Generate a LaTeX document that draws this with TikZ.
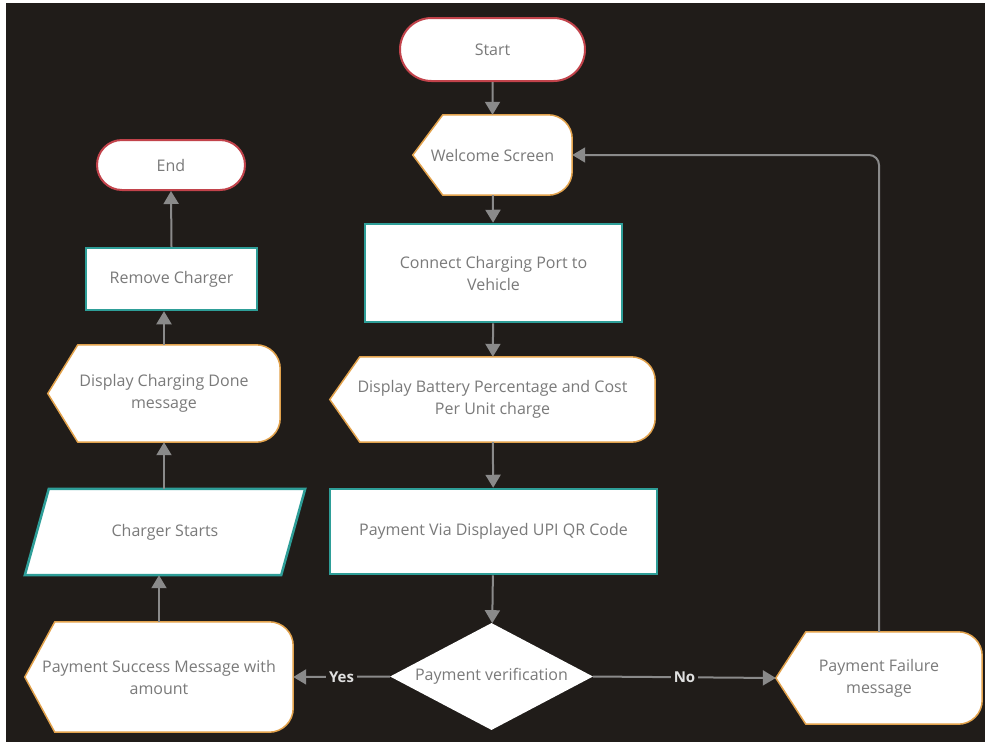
\documentclass[tikz,border=0pt]{standalone}
\usepackage{fontspec}
\setmainfont{Open Sans}
\usetikzlibrary{arrows.meta,shapes.geometric,shapes.misc}

\definecolor{bgdark}{HTML}{201C19}
\definecolor{termred}{HTML}{C2434B}
\definecolor{disporange}{HTML}{E2A24C}
\definecolor{procteal}{HTML}{2E9E98}
\definecolor{flowgray}{HTML}{8A8A8A}
\definecolor{labelgray}{HTML}{7A7A7A}

\pgfdeclarelayer{back}
\pgfdeclarelayer{outline}
\pgfsetlayers{back,outline,main}

\tikzset{
  base/.style={font=\fontsize{16}{22}\selectfont, text=labelgray, align=center, inner sep=0pt},
  term/.style={base, rounded rectangle, draw=termred, line width=2pt, fill=white},
  proc/.style={base, rectangle, draw=procteal, line width=2.5pt, fill=white},
  disp/.style={base, rectangle},
  decide/.style={base, diamond, fill=white, aspect=1.9},
  displine/.style={draw=disporange, line width=1.5pt, fill=white},
  slantline/.style={draw=procteal, line width=2.5pt, fill=white},
  flow/.style={draw=flowgray, line width=2pt, -{Triangle[length=13pt,width=15pt]}},
  answer/.style={font=\fontsize{15}{18}\selectfont\bfseries, text=white!88!black, fill=bgdark, inner sep=3pt}
}

\begin{document}
\begin{tikzpicture}[x=1pt,y=-1pt]
  \useasboundingbox (0,0) rectangle (987,745);
  \begin{pgfonlayer}{back}
    \fill[white] (0,0) rectangle (987,745);
    \fill[bgdark] (6,3) rectangle (985,742);
  \end{pgfonlayer}

  \node[term, minimum width=185, minimum height=63] (start) at (492.5,49.5) {Start};
  \node[disp, minimum width=159, minimum height=80] (welcome) at (492.5,155) {Welcome Screen};
  \node[proc, minimum width=257, minimum height=98] (connect) at (493.5,273) {Connect Charging Port to\\Vehicle};
  \node[disp, minimum width=325, minimum height=85] (battery) at (492.5,399.5) {Display Battery Percentage and Cost\\Per Unit charge};
  \node[proc, minimum width=327, minimum height=85] (payvia) at (493.5,531.5) {Payment Via Displayed UPI QR Code};
  \node[decide, minimum width=203, minimum height=107] (verify) at (491.5,676.5) {Payment verification};
  \node[disp, minimum width=206, minimum height=92] (failure) at (879,678) {Payment Failure\\message};
  \node[disp, minimum width=268, minimum height=110] (success) at (159,677) {Payment Success Message with\\amount};
  \node[disp, minimum width=280, minimum height=86] (charger) at (165,532) {Charger Starts};
  \node[disp, minimum width=232, minimum height=97] (chgdone) at (164,393.5) {Display Charging Done\\message};
  \node[proc, minimum width=171, minimum height=62] (remove) at (171.5,279) {Remove Charger};
  \node[term, minimum width=148, minimum height=50] (finish) at (171,165) {End};

  \begin{pgfonlayer}{outline}
    \foreach \n in {welcome,battery,failure,success,chgdone}
      \path[displine] (\n.west) -- ([xshift=30pt]\n.north west) -- ([xshift=-24pt]\n.north east)
        to[out=0,in=90] ([yshift=-24pt]\n.north east) -- ([yshift=24pt]\n.south east)
        to[out=-90,in=0] ([xshift=-24pt]\n.south east) -- ([xshift=30pt]\n.south west) -- cycle;
    \path[slantline] (charger.south west) -- ([xshift=24pt]charger.north west)
      -- (charger.north east) -- ([xshift=-24pt]charger.south east) -- cycle;
  \end{pgfonlayer}

  \draw[flow] (start) -- (welcome);
  \draw[flow] (welcome) -- (connect);
  \draw[flow] (connect) -- (battery);
  \draw[flow] (battery) -- (payvia);
  \draw[flow] (payvia) -- (verify);
  \draw[flow] (verify.west) -- node[answer] (yes) {Yes} (success.east);
  \draw[flow] (verify.east) -- node[answer] (no) {No} (failure.west);
  \draw[flow, rounded corners=10pt] (failure.north) |- (welcome.east);
  \draw[flow] (success.north) -- (success.north |- charger.south);
  \draw[flow] (chgdone.south |- charger.north) -- (chgdone.south);
  \draw[flow] (chgdone.north) -- (chgdone.north |- remove.south);
  \draw[flow] (remove.north) -- (finish.south);
\end{tikzpicture}
\end{document}
